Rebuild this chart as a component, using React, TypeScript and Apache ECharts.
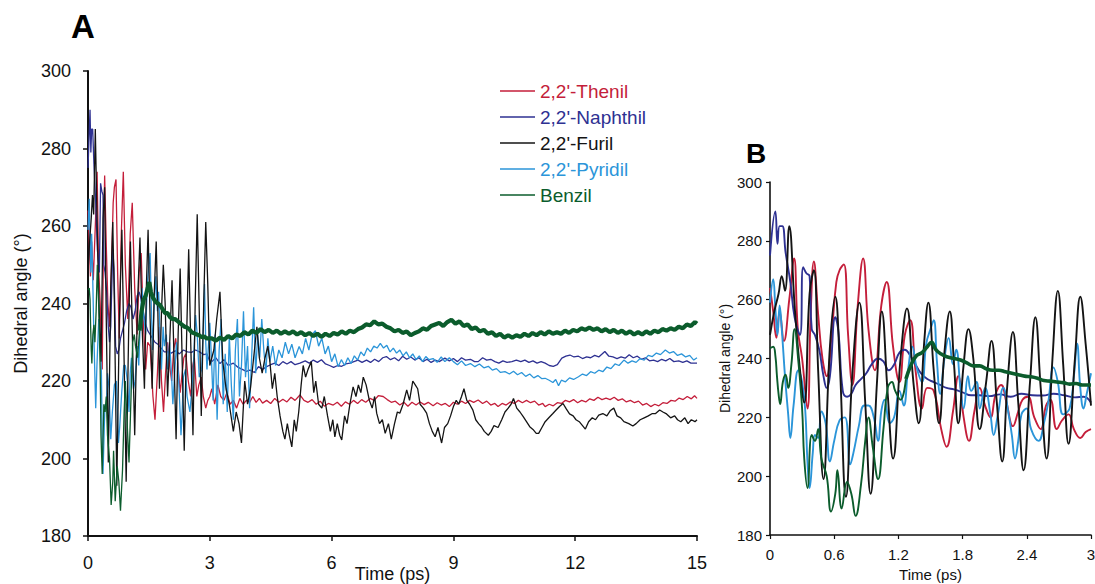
import React, { useEffect, useRef } from "react";
import * as echarts from "echarts";

type Pt = [number, number];

const seriesNames = ["2,2'-Thenil", "2,2'-Naphthil", "2,2'-Furil", "2,2'-Pyridil", "Benzil"];
const seriesColors = ["#c41e3a", "#2e3192", "#141414", "#2b95d9", "#0b5c2c"];

const yTicks = [180, 200, 220, 240, 260, 280, 300];
const xTicksA = [0, 3, 6, 9, 12, 15];
const xLabelsB = ["0", "0.6", "1.2", "1.8", "2.4", "3"];

// ---------- 0 - 3 ps (shown in both panels) ----------
const thenilEarly: Pt[] = [
  [0, 264], [0.03, 256], [0.06, 247], [0.09, 256], [0.13, 246], [0.18, 260], [0.225, 274], [0.26, 250],
  [0.3, 240], [0.35, 223], [0.38, 255], [0.41, 273], [0.45, 255], [0.49, 240], [0.53, 234], [0.58, 250],
  [0.62, 266], [0.65, 270], [0.69, 272], [0.73, 248], [0.77, 231], [0.82, 258], [0.87, 274], [0.92, 250],
  [0.98, 236], [1.04, 258], [1.09, 266], [1.15, 244], [1.21, 232], [1.26, 248], [1.31, 253], [1.36, 236],
  [1.42, 223], [1.47, 230], [1.53, 229], [1.6, 216], [1.65, 210], [1.71, 222], [1.76, 234], [1.81, 220],
  [1.86, 212], [1.91, 222], [1.96, 230], [2.01, 224], [2.06, 220], [2.11, 228], [2.16, 231], [2.21, 225],
  [2.27, 217], [2.32, 222], [2.36, 226], [2.41, 227], [2.47, 220], [2.53, 216], [2.58, 224], [2.62, 226],
  [2.68, 216], [2.73, 219], [2.79, 221], [2.84, 216], [2.9, 213], [2.95, 215], [3.0, 216],
];
const naphthilEarly: Pt[] = [
  [0, 275], [0.05, 290], [0.07, 279], [0.09, 285], [0.115, 285], [0.146, 276], [0.19, 266], [0.23, 254],
  [0.28, 248], [0.31, 271], [0.34, 269], [0.37, 268], [0.39, 250], [0.42, 248], [0.46, 243], [0.5, 234],
  [0.53, 230], [0.56, 234], [0.61, 254], [0.64, 249], [0.68, 229], [0.72, 227], [0.76, 228], [0.8, 231],
  [0.85, 233], [0.9, 235], [0.95, 238], [1.01, 240], [1.06, 239], [1.11, 236], [1.16, 238], [1.21, 242],
  [1.26, 243], [1.31, 241], [1.36, 238], [1.41, 235], [1.47, 233], [1.53, 232], [1.59, 231], [1.65, 230],
  [1.72, 229.5], [1.8, 228.5], [1.88, 227.5], [1.96, 227.5], [2.05, 227.2], [2.15, 227.8], [2.25, 227],
  [2.35, 228], [2.45, 227.5], [2.55, 227.4], [2.65, 228], [2.75, 227.5], [2.85, 226.8], [2.93, 227], [3.0, 225],
];
const furilEarly: Pt[] = [
  [0, 248], [0.04, 256], [0.08, 262], [0.11, 268], [0.14, 263], [0.18, 285], [0.23, 258], [0.27, 240],
  [0.32, 225], [0.37, 262], [0.41, 270], [0.45, 236], [0.5, 199], [0.56, 244], [0.61, 261], [0.65, 240],
  [0.71, 193], [0.77, 235], [0.835, 259], [0.89, 225], [0.94, 194], [1.0, 232], [1.045, 256], [1.1, 228],
  [1.15, 206], [1.22, 240], [1.28, 257], [1.34, 232], [1.39, 218], [1.44, 245], [1.48, 259], [1.53, 236],
  [1.58, 218], [1.63, 242], [1.68, 256], [1.72, 238], [1.76, 218], [1.81, 238], [1.855, 250], [1.9, 240],
  [1.96, 216], [2.02, 232], [2.07, 246], [2.12, 225], [2.17, 205], [2.22, 232], [2.27, 249], [2.32, 225],
  [2.37, 202], [2.43, 232], [2.48, 254], [2.53, 230], [2.585, 206], [2.64, 240], [2.69, 263], [2.74, 238],
  [2.79, 211], [2.85, 240], [2.9, 261], [2.95, 245], [3.0, 224],
];
const pyridilEarly: Pt[] = [
  [0, 259], [0.03, 267], [0.05, 257], [0.07, 248], [0.09, 258], [0.11, 250], [0.14, 234], [0.17, 221],
  [0.19, 213], [0.22, 224], [0.265, 236], [0.3, 232], [0.33, 222], [0.35, 205], [0.37, 196], [0.4, 208],
  [0.42, 214], [0.45, 213], [0.48, 222], [0.52, 218], [0.56, 205], [0.6, 212], [0.65, 219], [0.7, 220],
  [0.75, 204], [0.78, 208], [0.83, 217], [0.88, 224], [0.92, 224], [0.97, 220], [1.01, 212], [1.04, 222],
  [1.07, 226], [1.12, 218], [1.16, 220], [1.21, 229], [1.25, 224], [1.29, 236], [1.33, 244], [1.37, 237],
  [1.42, 232], [1.46, 245], [1.5, 250], [1.53, 253], [1.56, 239], [1.59, 228], [1.63, 240], [1.67, 247],
  [1.71, 238], [1.74, 243], [1.78, 230], [1.81, 223], [1.85, 234], [1.88, 229], [1.93, 232], [1.96, 223],
  [2.01, 230], [2.06, 221], [2.09, 214], [2.13, 221], [2.18, 230], [2.23, 221], [2.26, 214], [2.29, 206],
  [2.32, 212], [2.35, 221], [2.4, 223], [2.44, 216], [2.51, 212], [2.56, 218], [2.6, 225], [2.65, 237],
  [2.69, 232], [2.74, 221], [2.8, 223], [2.84, 234], [2.87, 245], [2.9, 230], [2.93, 223], [2.96, 228], [3.0, 235],
];
const benzilEarly: Pt[] = [
  [0, 243.5], [0.03, 244], [0.05, 241], [0.065, 234], [0.08, 228], [0.095, 224.5], [0.12, 232], [0.146, 234.5],
  [0.17, 230], [0.2, 238], [0.23, 250], [0.265, 239], [0.3, 223], [0.32, 206], [0.35, 196], [0.39, 214],
  [0.42, 212], [0.45, 216], [0.48, 206], [0.53, 200], [0.57, 188], [0.61, 194], [0.63, 202], [0.67, 189],
  [0.72, 198], [0.76, 194], [0.8, 186.5], [0.85, 197], [0.89, 212], [0.92, 220], [0.96, 210], [1.01, 199],
  [1.06, 216], [1.1, 230], [1.14, 232], [1.17, 229], [1.22, 226], [1.27, 233], [1.32, 238], [1.37, 241],
  [1.42, 242], [1.47, 244], [1.51, 245.5], [1.55, 243], [1.6, 241.5], [1.66, 240.5], [1.72, 240], [1.78, 239.5],
  [1.84, 238.5], [1.9, 237.5], [1.96, 237.5], [2.02, 236.5], [2.08, 236], [2.14, 236], [2.2, 235.5], [2.26, 235],
  [2.32, 234.5], [2.38, 234], [2.44, 233.8], [2.5, 233.3], [2.56, 232.5], [2.62, 232.3], [2.68, 232], [2.74, 231.8],
  [2.8, 231.3], [2.86, 231.5], [2.92, 231], [3.0, 231],
];

// ---------- 3 - 15 ps (panel A only) ----------
const thenilLate: Pt[] = [
  [3.05, 218], [3.12, 214], [3.2, 219], [3.27, 216], [3.35, 215], [3.42, 217], [3.5, 214], [3.58, 215],
  [3.66, 213], [3.74, 215.5], [3.82, 214], [3.9, 215], [3.98, 214.5], [4.06, 216], [4.14, 214.5], [4.22, 215.5],
  [4.3, 214.3], [4.4, 215], [4.5, 214.2], [4.6, 215.5], [4.7, 214.5], [4.8, 215.3], [4.9, 214.6], [5.0, 215.8],
  [5.1, 215], [5.22, 216.4], [5.32, 215], [5.42, 214.5], [5.52, 215.2], [5.62, 214], [5.72, 214.8], [5.82, 213.5],
  [5.92, 214.2], [6.04, 213.8], [6.14, 214.5], [6.24, 213.5], [6.34, 214.6], [6.44, 214], [6.54, 215], [6.64, 214.2],
  [6.74, 215.2], [6.84, 214.5], [6.95, 215.5], [7.05, 215], [7.15, 216.2], [7.27, 216], [7.37, 215.2], [7.47, 214.5],
  [7.57, 214.8], [7.68, 213.8], [7.78, 214.5], [7.88, 213.5], [7.98, 214.5], [8.08, 213.8], [8.18, 214.6], [8.28, 213.9],
  [8.38, 214.5], [8.5, 213.6], [8.6, 214.4], [8.7, 213.8], [8.8, 214.2], [8.9, 213.4], [9.0, 214.5], [9.1, 214],
  [9.2, 214.8], [9.3, 214.2], [9.4, 215], [9.5, 214.5], [9.61, 215.1], [9.72, 214.2], [9.82, 214.8], [9.92, 213.8],
  [10.02, 214.2], [10.1, 213.4], [10.2, 214.2], [10.3, 213.8], [10.4, 214.6], [10.5, 214.2], [10.6, 215], [10.7, 214.4],
  [10.8, 215], [10.9, 214.4], [11.0, 214.8], [11.1, 213.8], [11.2, 214.2], [11.26, 213.4], [11.36, 214], [11.46, 213.6],
  [11.56, 214.4], [11.66, 214.2], [11.76, 215], [11.86, 214.6], [11.96, 215.2], [12.06, 214.4], [12.16, 215], [12.26, 214.6],
  [12.36, 215.4], [12.46, 215], [12.56, 215.8], [12.66, 215.2], [12.76, 215.6], [12.86, 215.2], [12.96, 215.8], [13.06, 215],
  [13.16, 215.4], [13.26, 214.6], [13.36, 215], [13.46, 214.4], [13.56, 214.8], [13.66, 213.8], [13.76, 214.2], [13.86, 213.4],
  [13.96, 214], [14.06, 213.6], [14.16, 214.4], [14.26, 214.2], [14.36, 215], [14.46, 214.8], [14.56, 215.6], [14.66, 215.2],
  [14.76, 216], [14.86, 215.4], [14.94, 216.2], [15.0, 215.5],
];
const naphthilLate: Pt[] = [
  [3.05, 225], [3.15, 226], [3.25, 224.5], [3.35, 225.5], [3.45, 224], [3.58, 224.6], [3.7, 223.5], [3.8, 223],
  [3.9, 222.5], [3.99, 222.8], [4.1, 222.2], [4.2, 223.7], [4.3, 223], [4.4, 223.7], [4.5, 224.2], [4.6, 224.6],
  [4.7, 224], [4.8, 225], [4.9, 224.4], [5.0, 225], [5.1, 224.2], [5.22, 224.6], [5.35, 225.2], [5.45, 224.6],
  [5.55, 225.4], [5.65, 224.8], [5.75, 225.5], [5.85, 224.4], [5.95, 224], [6.05, 223.5], [6.15, 224], [6.25, 223.8],
  [6.35, 224.4], [6.45, 224.6], [6.55, 225], [6.65, 225.4], [6.75, 224.8], [6.86, 225.4], [6.96, 224.8], [7.06, 225.6],
  [7.16, 225], [7.26, 226], [7.35, 226.3], [7.45, 225.5], [7.55, 226], [7.65, 225.2], [7.75, 226.4], [7.85, 225.6],
  [7.95, 226.2], [8.05, 225.4], [8.15, 226], [8.25, 225], [8.35, 225.6], [8.45, 224.8], [8.55, 225.4], [8.65, 225],
  [8.79, 225.9], [8.9, 225.2], [9.0, 225.8], [9.1, 225], [9.2, 226], [9.3, 225.4], [9.42, 225.6], [9.52, 225],
  [9.61, 225], [9.72, 226], [9.82, 225.4], [9.92, 225.6], [10.02, 225], [10.12, 224.6], [10.22, 225.2], [10.32, 224.8],
  [10.44, 225], [10.55, 225.4], [10.66, 225], [10.76, 225.4], [10.86, 224.8], [10.96, 225.2], [11.06, 224.6], [11.16, 225],
  [11.26, 224.6], [11.36, 224], [11.46, 223.8], [11.56, 224.2], [11.67, 225.9], [11.77, 226.4], [11.87, 226.7], [11.97, 226.2],
  [12.08, 226.4], [12.18, 225.8], [12.28, 226.2], [12.38, 226], [12.48, 226.6], [12.58, 226.2], [12.73, 227.6], [12.83, 226.4],
  [12.93, 226.2], [13.03, 225.8], [13.13, 226.2], [13.23, 225.9], [13.33, 226.8], [13.43, 226], [13.53, 226.4], [13.63, 225.6],
  [13.73, 226], [13.83, 225.2], [13.93, 225.4], [14.03, 225], [14.13, 225.6], [14.23, 225.2], [14.33, 225.8], [14.43, 225],
  [14.55, 225.2], [14.65, 224.8], [14.75, 225.2], [14.85, 224.6], [15.0, 224.6],
];
const furilLate: Pt[] = [
  [3.1, 228], [3.17, 236], [3.25, 243], [3.32, 225], [3.4, 218], [3.48, 214], [3.58, 207], [3.65, 212],
  [3.72, 209], [3.78, 204], [3.86, 220], [3.93, 214], [4.0, 218], [4.08, 226], [4.16, 234], [4.22, 226],
  [4.29, 222], [4.36, 226], [4.43, 229], [4.48, 225], [4.54, 218], [4.6, 222], [4.66, 216], [4.73, 211],
  [4.8, 207], [4.85, 205], [4.91, 209], [4.96, 206], [5.02, 203], [5.08, 210], [5.13, 207], [5.19, 212],
  [5.25, 219], [5.3, 224], [5.36, 221], [5.42, 223], [5.5, 225], [5.56, 217], [5.61, 220], [5.68, 214],
  [5.76, 213], [5.82, 216], [5.9, 211], [5.97, 207], [6.03, 210], [6.08, 205.6], [6.14, 209], [6.2, 206],
  [6.25, 204.8], [6.32, 211], [6.38, 209], [6.45, 214], [6.53, 218.5], [6.6, 216], [6.66, 219], [6.72, 217],
  [6.78, 221], [6.85, 219], [6.93, 215], [7.0, 213], [7.06, 216], [7.11, 211.7], [7.18, 209], [7.25, 210],
  [7.32, 206.5], [7.4, 209], [7.47, 205], [7.55, 209], [7.62, 212], [7.68, 211.7], [7.76, 214], [7.85, 217.7],
  [7.92, 215], [8.0, 220], [8.06, 219], [8.12, 218], [8.18, 214], [8.26, 213], [8.34, 211.7], [8.41, 209],
  [8.48, 207], [8.55, 205.6], [8.62, 208], [8.71, 204], [8.78, 208], [8.86, 209], [8.93, 211], [9.0, 213.4],
  [9.07, 215], [9.13, 214], [9.2, 216], [9.26, 218], [9.33, 215], [9.4, 214], [9.48, 212.5], [9.55, 210],
  [9.62, 209], [9.69, 208.2], [9.76, 207], [9.86, 206], [9.93, 207], [10.0, 208.5], [10.1, 208], [10.19, 210],
  [10.27, 212], [10.35, 213], [10.42, 214], [10.48, 215.5], [10.56, 213], [10.64, 212], [10.72, 210.8], [10.8, 209.5],
  [10.88, 208.2], [10.96, 207.5], [11.04, 206.5], [11.1, 206.5], [11.18, 208], [11.26, 209.5], [11.35, 210.5], [11.45, 211.6],
  [11.53, 212.5], [11.62, 213.5], [11.7, 214.2], [11.78, 212.8], [11.86, 211.5], [11.95, 211], [12.02, 210], [12.1, 209.5],
  [12.18, 208.5], [12.25, 207.6], [12.33, 209.5], [12.42, 210.5], [12.5, 210], [12.58, 211.2], [12.68, 211.6], [12.78, 211],
  [12.86, 212.3], [12.95, 213], [13.03, 211], [13.12, 210.5], [13.2, 209.5], [13.32, 209], [13.42, 208.4], [13.5, 209],
  [13.6, 210], [13.7, 210.5], [13.8, 211], [13.9, 211.6], [13.98, 211.6], [14.08, 212.5], [14.16, 212], [14.25, 211.5],
  [14.35, 210.5], [14.45, 211], [14.52, 210], [14.6, 209.5], [14.7, 210.5], [14.78, 209], [14.86, 210], [14.95, 209.5], [15.0, 210],
];
const pyridilLate: Pt[] = [
  [3.04, 226], [3.08, 215], [3.13, 232], [3.18, 210], [3.23, 228], [3.28, 236], [3.33, 214], [3.38, 227],
  [3.43, 212], [3.48, 232], [3.53, 219], [3.58, 210], [3.63, 228], [3.68, 236], [3.73, 216], [3.78, 224],
  [3.83, 238], [3.88, 221], [3.93, 229], [3.98, 213], [4.03, 226], [4.08, 239], [4.13, 222], [4.18, 232],
  [4.23, 226], [4.28, 236], [4.33, 228], [4.38, 222], [4.43, 231], [4.48, 225], [4.55, 229], [4.62, 224],
  [4.7, 228], [4.78, 226], [4.86, 230], [4.94, 227], [5.02, 229.5], [5.1, 226], [5.2, 228.9], [5.28, 227],
  [5.36, 231], [5.44, 228], [5.52, 232], [5.6, 233], [5.68, 229], [5.76, 231], [5.84, 227], [5.92, 229],
  [6.0, 225], [6.08, 227], [6.16, 223.7], [6.24, 225.5], [6.32, 224], [6.4, 226], [6.48, 224.5], [6.56, 226.5],
  [6.64, 225.4], [6.72, 227.5], [6.8, 226.5], [6.88, 228.5], [6.96, 227.5], [7.04, 229], [7.12, 228.5], [7.2, 229.7],
  [7.28, 228.5], [7.36, 229.2], [7.44, 227.5], [7.52, 228.5], [7.6, 227.2], [7.68, 228], [7.76, 226.5], [7.84, 227.5],
  [7.92, 226], [8.0, 227], [8.08, 225.5], [8.16, 226.5], [8.24, 225], [8.32, 226.3], [8.4, 225.5], [8.5, 225.8],
  [8.6, 224.8], [8.7, 226.2], [8.79, 225], [8.9, 226], [9.0, 225], [9.1, 224.2], [9.2, 225.2], [9.3, 224],
  [9.42, 224.5], [9.53, 223.7], [9.64, 224.4], [9.75, 223.4], [9.86, 223.8], [9.96, 222.8], [10.06, 223.2], [10.16, 222.2],
  [10.27, 222.4], [10.38, 221.8], [10.48, 222.5], [10.58, 221.6], [10.68, 222.2], [10.78, 221.2], [10.88, 221.8], [10.98, 220.8],
  [11.08, 221.4], [11.18, 220.6], [11.26, 220.7], [11.36, 220.2], [11.45, 219.6], [11.52, 220.4], [11.59, 218.8], [11.66, 220.2],
  [11.76, 219.8], [11.86, 220.8], [11.96, 220.4], [12.08, 221.1], [12.18, 221.8], [12.28, 221.4], [12.38, 222.4], [12.48, 222],
  [12.58, 222.8], [12.68, 222.4], [12.78, 223.6], [12.88, 223.2], [12.98, 224.4], [13.08, 224], [13.2, 225.4], [13.3, 224.6],
  [13.4, 225.2], [13.5, 224.8], [13.6, 225.8], [13.7, 225.4], [13.8, 226.6], [13.9, 226.3], [14.0, 227.2], [14.1, 226.8],
  [14.22, 228], [14.32, 227.2], [14.42, 227.6], [14.52, 226.6], [14.62, 227], [14.72, 226.2], [14.82, 226.6], [14.92, 225.4], [15.0, 226],
];
const benzilLate: Pt[] = [
  [3.05, 231], [3.15, 230.4], [3.25, 231.2], [3.35, 230.6], [3.45, 231.6], [3.55, 231], [3.65, 232], [3.75, 231.6],
  [3.85, 232.6], [3.95, 232], [4.05, 233], [4.15, 232.4], [4.25, 233.4], [4.35, 232.6], [4.45, 233.2], [4.55, 232.4],
  [4.65, 233], [4.75, 232.2], [4.85, 232.8], [4.95, 232.2], [5.05, 232.8], [5.15, 232], [5.25, 232.6], [5.35, 231.8],
  [5.45, 232.4], [5.55, 231.6], [5.65, 232.2], [5.75, 231.4], [5.85, 232.2], [5.95, 231.6], [6.05, 232.4], [6.15, 232],
  [6.25, 232.8], [6.35, 232.2], [6.45, 233], [6.55, 232.6], [6.65, 233.4], [6.75, 233.8], [6.85, 234.6], [6.95, 234.4],
  [7.05, 235.4], [7.15, 234.6], [7.25, 234.8], [7.35, 234], [7.45, 233.6], [7.55, 232.8], [7.65, 233.2], [7.75, 232.4],
  [7.85, 232.8], [7.95, 231.8], [8.05, 232.4], [8.15, 232.8], [8.25, 233.6], [8.35, 233.2], [8.45, 234.2], [8.55, 234.6],
  [8.65, 235], [8.75, 234.2], [8.85, 235.2], [8.95, 235.8], [9.05, 234.8], [9.15, 235.4], [9.25, 234.2], [9.35, 234.6],
  [9.45, 233.4], [9.55, 233.8], [9.65, 232.8], [9.75, 233.2], [9.85, 232.2], [9.95, 232.6], [10.05, 231.6], [10.15, 232.2],
  [10.25, 231.2], [10.35, 231.8], [10.45, 231.2], [10.55, 231.8], [10.65, 231.4], [10.75, 232.2], [10.85, 231.6], [10.95, 232.4],
  [11.05, 231.8], [11.15, 232.6], [11.25, 232], [11.35, 232.8], [11.45, 232.2], [11.55, 232.6], [11.65, 232.2], [11.75, 233],
  [11.85, 232.4], [11.95, 233.2], [12.05, 232.8], [12.15, 233.6], [12.25, 233.2], [12.35, 233.8], [12.45, 233.2], [12.55, 233.6],
  [12.65, 232.8], [12.75, 233.4], [12.85, 232.6], [12.95, 233.2], [13.05, 232.4], [13.15, 233], [13.25, 232.2], [13.35, 232.8],
  [13.45, 232], [13.55, 232.6], [13.65, 232], [13.75, 232.8], [13.85, 232.2], [13.95, 233], [14.05, 232.6], [14.15, 233.4],
  [14.25, 233], [14.35, 233.6], [14.45, 233.2], [14.55, 234], [14.65, 233.6], [14.75, 234.6], [14.85, 234.2], [14.95, 235.2], [15.0, 234.8],
];

const FONT = "'Liberation Sans', Arial, Helvetica, sans-serif";
const GREEN_THICK_FROM = 1.28;

export default function App() {
  const ref = useRef<HTMLDivElement>(null);

  useEffect(() => {
    if (!ref.current) return;
    const chart = echarts.init(ref.current, undefined, { renderer: "svg" });

    const earlySets = [thenilEarly, naphthilEarly, furilEarly, pyridilEarly, benzilEarly];
    const lateSets = [thenilLate, naphthilLate, furilLate, pyridilLate, benzilLate];
    const drawOrder = [0, 1, 3, 2];

    const makeSeries = (gridIdx: number, full: boolean) => {
      const out: any[] = [];
      const w = gridIdx === 0 ? 1.3 : 1.9;
      const smooth = gridIdx === 0 ? false : 0.45;
      drawOrder.forEach((i) => {
        const data = full ? [...earlySets[i], ...lateSets[i]] : earlySets[i];
        out.push({
          name: seriesNames[i], type: "line", xAxisIndex: gridIdx, yAxisIndex: gridIdx,
          data, showSymbol: false, symbol: "none", smooth, silent: true,
          lineStyle: { color: seriesColors[i], width: w }, itemStyle: { color: seriesColors[i] },
        });
      });
      const gAll = full ? [...earlySets[4], ...lateSets[4]] : earlySets[4];
      const thin = gAll.filter((p) => p[0] <= GREEN_THICK_FROM);
      const thick = gAll.filter((p) => p[0] >= GREEN_THICK_FROM - 0.02);
      out.push({
        name: seriesNames[4], type: "line", xAxisIndex: gridIdx, yAxisIndex: gridIdx,
        data: thin, showSymbol: false, symbol: "none", smooth, silent: true,
        lineStyle: { color: seriesColors[4], width: w }, itemStyle: { color: seriesColors[4] },
      });
      out.push({
        name: seriesNames[4], type: "line", xAxisIndex: gridIdx, yAxisIndex: gridIdx,
        data: thick, showSymbol: false, symbol: "none", smooth, silent: true,
        lineStyle: { color: seriesColors[4], width: gridIdx === 0 ? 4.2 : 3.6 }, itemStyle: { color: seriesColors[4] },
      });
      return out;
    };

    const axisLine = (w: number) => ({ show: true, lineStyle: { color: "#111", width: w } });

    chart.setOption({
      animation: false,
      backgroundColor: "#ffffff",
      grid: [
        { left: 88, top: 71, width: 609, height: 465, outerBoundsMode: "none", containLabel: false },
        { left: 770, top: 182, width: 321, height: 353, outerBoundsMode: "none", containLabel: false },
      ],
      xAxis: [
        {
          type: "value", gridIndex: 0, min: xTicksA[0], max: xTicksA[xTicksA.length - 1],
          interval: xTicksA[1] - xTicksA[0],
          axisLine: axisLine(2), axisTick: { show: true, length: 5, lineStyle: { color: "#111", width: 1.5 } },
          splitLine: { show: false },
          axisLabel: { fontSize: 18, color: "#111", fontFamily: FONT, margin: 18 },
          name: "Time (ps)", nameLocation: "middle", nameGap: 29, nameMoveOverlap: false,
          nameTextStyle: { fontSize: 18, color: "#111", fontFamily: FONT },
        },
        {
          type: "value", gridIndex: 1, min: 0, max: 3, interval: 0.6,
          axisLine: axisLine(1.6), axisTick: { show: true, length: 4, lineStyle: { color: "#111", width: 1.2 } },
          splitLine: { show: false },
          axisLabel: {
            fontSize: 15, color: "#111", fontFamily: FONT, margin: 12,
            formatter: (v: number) => xLabelsB[Math.round(v / 0.6)] ?? "",
          },
          name: "Time (ps)", nameLocation: "middle", nameGap: 32, nameMoveOverlap: false,
          nameTextStyle: { fontSize: 15, color: "#111", fontFamily: FONT },
        },
      ],
      yAxis: [
        {
          type: "value", gridIndex: 0, min: yTicks[0], max: yTicks[yTicks.length - 1], interval: yTicks[1] - yTicks[0],
          axisLine: axisLine(2), axisTick: { show: true, length: 5, lineStyle: { color: "#111", width: 1.5 } },
          splitLine: { show: false },
          axisLabel: { fontSize: 18, color: "#111", fontFamily: FONT, margin: 17 },
          name: "Dihedral angle (°)", nameLocation: "middle", nameGap: 57,
          nameTextStyle: { fontSize: 18, color: "#111", fontFamily: FONT },
        },
        {
          type: "value", gridIndex: 1, min: yTicks[0], max: yTicks[yTicks.length - 1], interval: yTicks[1] - yTicks[0],
          axisLine: axisLine(1.6), axisTick: { show: true, length: 4, lineStyle: { color: "#111", width: 1.2 } },
          splitLine: { show: false },
          axisLabel: { fontSize: 15, color: "#111", fontFamily: FONT, margin: 8 },
          name: "Dihedral angle (°)", nameLocation: "middle", nameGap: 38,
          nameTextStyle: { fontSize: 14, color: "#111", fontFamily: FONT },
        },
      ],
      legend: {
        orient: "vertical", left: 500, top: 81.5, padding: 0, itemWidth: 35, itemHeight: 1.5, itemGap: 7,
        icon: "rect", selectedMode: false,
        textStyle: { fontSize: 19, fontFamily: FONT, lineHeight: 19 },
        data: seriesNames.map((n, i) => ({
          name: n, icon: "rect", itemStyle: { color: seriesColors[i] }, textStyle: { color: seriesColors[i] },
        })),
      },
      graphic: [
        { type: "text", left: 71, top: 10, style: { text: "A", font: `bold 33px ${FONT}`, fill: "#000" } },
        { type: "text", left: 746, top: 139, style: { text: "B", font: `bold 28px ${FONT}`, fill: "#000" } },
      ],
      series: [...makeSeries(0, true), ...makeSeries(1, false)],
    });

    return () => chart.dispose();
  }, []);

  return (
    <div
      ref={ref}
      style={{ position: "fixed", left: 0, top: 0, width: 1095, height: 584, background: "#fff" }}
    />
  );
}
